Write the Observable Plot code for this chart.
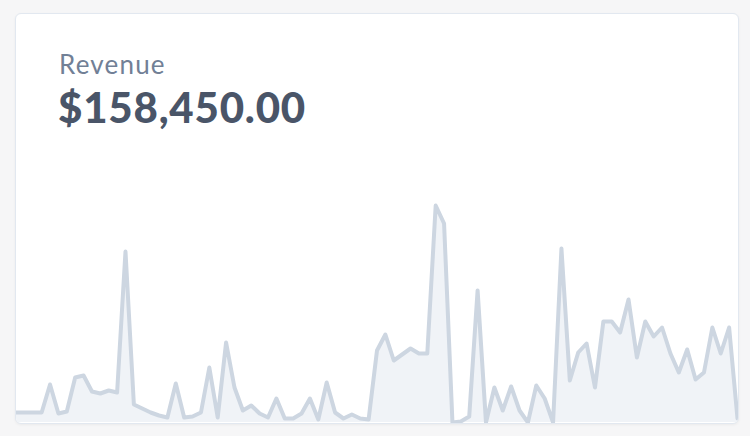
<!DOCTYPE html>
<html>
<head>
<meta charset="utf-8">
<script src="https://cdn.jsdelivr.net/npm/d3@7"></script>
<script src="https://cdn.jsdelivr.net/npm/@observablehq/plot@0.6"></script>
<style>
  html, body { margin: 0; padding: 0; background: #f6f6f7; }
  body { width: 750px; height: 436px; position: relative; overflow: hidden; font-family: Lato, "Open Sans", sans-serif; }
  .card {
    position: absolute; left: 15px; top: 13px; width: 722px; height: 409px;
    background: #ffffff; border: 1px solid #e2e8f0; border-radius: 6px;
    box-shadow: 0 1px 3px rgba(0,0,0,0.05); overflow: hidden;
  }
  .label { position: absolute; left: 43px; top: 37px; font-size: 26px; color: #718096; line-height: 1; letter-spacing: 1.2px; }
  .value { position: absolute; left: 42px; top: 72px; font-size: 42px; font-weight: 900; color: #4a5568; line-height: 1; letter-spacing: 0.8px; }
  #chart { position: absolute; left: 0; bottom: 0; }
  #chart svg { display: block; background: transparent; overflow: visible; }
</style>
</head>
<body>
<div class="card">
  <div class="label">Revenue</div>
  <div class="value">$158,450.00</div>
  <div id="chart"></div>
</div>
<script>
const days = d3.range(87);
const revenue = [10, 10, 10, 10, 38, 9, 11, 45, 47, 31, 29, 32, 30, 171, 18, 14, 10, 7, 5, 39,
  5, 6, 10, 55, 5, 80, 35, 12, 17, 9, 5, 24, 4, 4, 9, 24, 3, 40, 10, 4,
  8, 4, 3, 72, 88, 62, 68, 74, 69, 69, 217, 199, 0, 1, 6, 132, 0, 35, 12, 36,
  12, 0, 37, 24, 0, 174, 42, 70, 79, 35, 101, 101, 90, 123, 65, 101, 86, 95, 69, 50,
  73, 43, 50, 95, 69, 95, 4];
const data = days.map((d, i) => ({day: d, value: revenue[i]}));

const chart = Plot.plot({
  width: 722,
  height: 233,
  marginTop: 15,
  marginBottom: 1,
  marginLeft: 0,
  marginRight: 1,
  x: {domain: [0, 86], axis: null},
  y: {domain: [0, 217], axis: null},
  marks: [
    Plot.areaY(data, {x: "day", y: "value", fill: "#f0f3f7"}),
    Plot.lineY(data, {x: "day", y: "value", stroke: "#cdd6e1", strokeWidth: 4, strokeLinejoin: "round", strokeLinecap: "round"})
  ]
});
document.getElementById("chart").appendChild(chart);
</script>
</body>
</html>
